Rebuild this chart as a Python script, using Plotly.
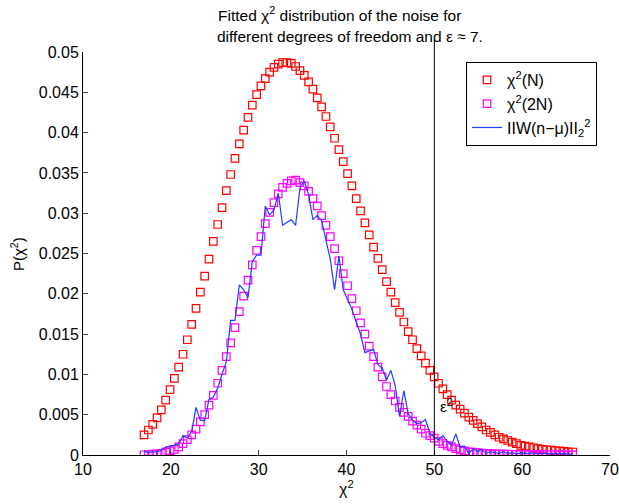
import plotly.graph_objects as go

# bin centres of the chi^2 histogram (100 equal bins)
chi2_bins = [round(16.95 + 0.493 * i, 3) for i in range(100)]

chi2_N = [0.0025, 0.0031, 0.0038, 0.0046, 0.0056, 0.0068, 0.0081, 0.0095, 0.0109, 0.0125,
          0.0143, 0.0162, 0.0182, 0.0202, 0.0222, 0.0243, 0.0265, 0.0286, 0.0307, 0.0328,
          0.0348, 0.0368, 0.0386, 0.0403, 0.0419, 0.0434, 0.0447, 0.0458, 0.0467, 0.0475,
          0.0481, 0.0485, 0.0487, 0.0487, 0.0486, 0.0482, 0.0477, 0.0471, 0.0463, 0.0454,
          0.0443, 0.0432, 0.0420, 0.0407, 0.0393, 0.0379, 0.0364, 0.0349, 0.0334, 0.0318,
          0.0303, 0.0288, 0.0273, 0.0258, 0.0244, 0.0230, 0.0215, 0.0202, 0.0189, 0.0177,
          0.0165, 0.0153, 0.0143, 0.0132, 0.0123, 0.0114, 0.0105, 0.0097, 0.0089, 0.0082,
          0.0075, 0.0068, 0.0062, 0.0057, 0.0052, 0.0047, 0.0043, 0.0039, 0.0035, 0.0031,
          0.0028, 0.0025, 0.0022, 0.0020, 0.0018, 0.0016, 0.0014, 0.0012, 0.0011, 0.0010,
          0.0009, 0.0008, 0.0007, 0.00065, 0.0006, 0.00053, 0.0005, 0.00045, 0.0004, 0.00037]

chi2_2N = [0.00003, 0.00006, 0.0001, 0.00015, 0.00022, 0.00035, 0.0005, 0.0007, 0.0010, 0.0014,
           0.0019, 0.0025, 0.0032, 0.0041, 0.0050, 0.0062, 0.0074, 0.0089, 0.0105, 0.0122,
           0.0139, 0.0158, 0.0178, 0.0197, 0.0217, 0.0236, 0.0254, 0.0271, 0.0287, 0.0301,
           0.0313, 0.0324, 0.0332, 0.0337, 0.0340, 0.0341, 0.0338, 0.0334, 0.0327, 0.0318,
           0.0309, 0.0297, 0.0285, 0.0271, 0.0256, 0.0241, 0.0225, 0.0210, 0.0194, 0.0179,
           0.0164, 0.0150, 0.0135, 0.0122, 0.0109, 0.0097, 0.0085, 0.0075, 0.0067, 0.0059,
           0.0053, 0.0048, 0.0042, 0.0037, 0.0032, 0.0027, 0.0024, 0.0021, 0.0017, 0.0014,
           0.0012, 0.0010, 0.0008, 0.0006, 0.0005, 0.0004, 0.00035, 0.0003, 0.00025, 0.0002,
           0.00018, 0.00015, 0.00013, 0.00011, 0.0001, 0.00009, 0.00008, 0.00007, 0.00006, 0.00005,
           0.00005, 0.00004, 0.00004, 0.00003, 0.00003, 0.00003, 0.00002, 0.00002, 0.00002, 0.00002]

noise_norm = [0.0005, 0.0003, 0.0004, 0.0004, 0.0006, 0.0010, 0.0011, 0.0012, 0.0014, 0.0024,
              0.0021, 0.0029, 0.0059, 0.0043, 0.0043, 0.0069, 0.0072, 0.0083, 0.0100, 0.0116,
              0.0167, 0.0167, 0.0211, 0.0205, 0.0195, 0.0240, 0.0248, 0.0248, 0.0309, 0.0298,
              0.0304, 0.0325, 0.0285, 0.0289, 0.0292, 0.0285, 0.0331, 0.0340, 0.0323, 0.0292,
              0.0297, 0.0291, 0.0265, 0.0243, 0.0205, 0.0247, 0.0205, 0.0192, 0.0181, 0.0165,
              0.0150, 0.0127, 0.0129, 0.0131, 0.0112, 0.0108, 0.0093, 0.0105, 0.0086, 0.0048,
              0.0080, 0.0051, 0.0043, 0.0039, 0.0040, 0.0044, 0.0027, 0.0022, 0.0019, 0.0024,
              0.0017, 0.0012, 0.0026, 0.0010, 0.0011, 0.0002, 0.0008, 0.0004, 0.0007, 0.0002,
              0.0004, 0.0003, 0.0002, 0.0004, 0.0002, 0.0003, 0.0001, 0.0003, 0.0002, 0.0002,
              0.0003, 0.0001, 0.0002, 0.0002, 0.0001, 0.0002, 0.0001, 0.0002, 0.0001, 0.0001]

eps2 = 50
eps_label_pos = (50.4, 0.0062)

x_ticks = [10, 20, 30, 40, 50, 60, 70]
y_ticks = [0, 0.005, 0.01, 0.015, 0.02, 0.025, 0.03, 0.035, 0.04, 0.045, 0.05]
y_ticktext = ["0", "0.005", "0.01", "0.015", "0.02", "0.025", "0.03", "0.035", "0.04", "0.045", "0.05"]

FONT = "Liberation Sans, Arial, Helvetica, sans-serif"
L, R, T, B = 83, 9, 52, 49
PW, PH = 619 - L - R, 504 - T - B


def px(xp):
    return (xp - L) / PW


def py(yp):
    return (504 - B - yp) / PH


fig = go.Figure()
fig.add_trace(go.Scatter(
    x=chi2_bins, y=chi2_N, mode="markers", name="χ<sup>2</sup>(N)",
    marker=dict(symbol="square-open", size=7.5, color="#ff0000", line=dict(width=1.2)),
))
fig.add_trace(go.Scatter(
    x=chi2_bins, y=chi2_2N, mode="markers", name="χ<sup>2</sup>(2N)",
    marker=dict(symbol="square-open", size=7.5, color="#ff00ff", line=dict(width=1.2)),
))
fig.add_trace(go.Scatter(
    x=chi2_bins, y=noise_norm, mode="lines", name="IIW(n−μ)II<sub>2</sub><sup>2</sup>",
    line=dict(color="#1f3dff", width=1.2),
))

fig.add_shape(type="line", xref="x", yref="paper", x0=eps2, x1=eps2, y0=0, y1=1.03,
              line=dict(color="black", width=1))

fig.add_annotation(x=eps_label_pos[0], y=eps_label_pos[1], xref="x", yref="y",
                   text="ε<sup>2</sup>", showarrow=False, xanchor="left", yanchor="middle",
                   font=dict(size=15, color="black", family=FONT))

# title lines
fig.add_annotation(x=px(339), y=py(14), xref="paper", yref="paper",
                   text="Fitted χ<sup>2</sup> distribution of the noise for", showarrow=False,
                   xanchor="center", yanchor="middle", font=dict(size=15.5, color="black", family=FONT))
fig.add_annotation(x=px(350), y=py(36), xref="paper", yref="paper",
                   text="different degrees of freedom and ε ≈ 7.", showarrow=False,
                   xanchor="center", yanchor="middle", font=dict(size=15.5, color="black", family=FONT))
# axis titles
fig.add_annotation(x=px(346), y=py(488), xref="paper", yref="paper",
                   text="χ<sup>2</sup>", showarrow=False, xanchor="center", yanchor="middle",
                   font=dict(size=16, color="black", family=FONT))
fig.add_annotation(x=px(17), y=py(254), xref="paper", yref="paper",
                   text="P(χ<sup>2</sup>)", showarrow=False, xanchor="center", yanchor="middle",
                   textangle=-90, font=dict(size=15, color="black", family=FONT))

fig.update_layout(
    width=619, height=504,
    margin=dict(l=L, r=R, t=T, b=B, autoexpand=False),
    paper_bgcolor="white", plot_bgcolor="white",
    font=dict(family=FONT, size=15, color="black"),
    showlegend=True,
    legend=dict(x=px(466), y=py(62), xanchor="left", yanchor="top",
                bgcolor="white", bordercolor="black", borderwidth=1,
                font=dict(size=16, color="black", family=FONT), tracegroupgap=0),
    xaxis=dict(range=[10, 70], tickvals=x_ticks, ticks="inside", ticklen=5, automargin=False,
               showline=True, linecolor="black", linewidth=1, showgrid=False, zeroline=False,
               tickfont=dict(size=16, color="black")),
    yaxis=dict(range=[0, 0.05], tickvals=y_ticks, ticktext=y_ticktext, ticks="inside", ticklen=5,
               automargin=False,
               showline=True, linecolor="black", linewidth=1, showgrid=False, zeroline=False,
               tickfont=dict(size=16, color="black")),
)

fig.write_html("out.html")
